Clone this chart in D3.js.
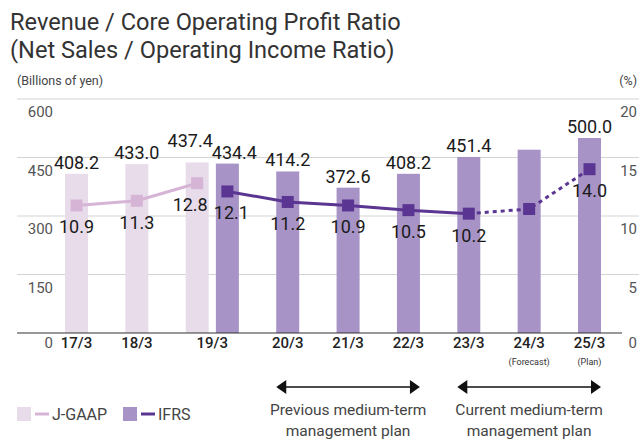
<!DOCTYPE html>
<html>
<head>
<meta charset="utf-8">
<script src="https://cdn.jsdelivr.net/npm/d3@7"></script>
<style>
  body { margin: 0; background: #fff; }
  text { font-family: Roboto, "Liberation Sans", sans-serif; }
</style>
</head>
<body>
<div id="chart"></div>
<script>
// chart data
const categories = ["17/3", "18/3", "19/3", "20/3", "21/3", "22/3", "23/3", "24/3", "25/3"];
const subLabels = ["", "", "", "", "", "", "", "(Forecast)", "(Plan)"];

const jgaapYears = ["17/3", "18/3", "19/3"];
const jgaapRevenue = [408.2, 433.0, 437.4];
const jgaapRatio = [10.9, 11.3, 12.8];

const ifrsYears = ["19/3", "20/3", "21/3", "22/3", "23/3", "24/3", "25/3"];
const ifrsRevenue = [434.4, 414.2, 372.6, 408.2, 451.4, 470.0, 500.0];
const ifrsRatio = [12.1, 11.2, 10.9, 10.5, 10.2, 10.6, 14.0];
const ifrsRevenueLabels = ["434.4", "414.2", "372.6", "408.2", "451.4", null, "500.0"];
const ifrsRatioLabels = ["12.1", "11.2", "10.9", "10.5", "10.2", null, "14.0"];

const leftTicks = [0, 150, 300, 450, 600];
const rightTicks = [0, 5, 10, 15, 20];

const plans = [
  { from: "20/3", to: "22/3", lines: ["Previous medium-term", "management plan"] },
  { from: "23/3", to: "25/3", lines: ["Current medium-term", "management plan"] }
];

const width = 640;
const height = 440;
const colors = { jBar: "#e8dcea", jLine: "#d6b4d6", iBar: "#a893c7", iLine: "#5a3592" };
const barW = 23;

const svg = d3.select("#chart")
  .append("svg")
  .attr("width", width)
  .attr("height", height);

// J-GAAP bars sit on whole slots, IFRS bars half a slot to the right
const x = d3.scaleLinear().domain([0, 8.5]).range([76.5, 589.5]);
const jPos = yr => x(categories.indexOf(yr));
const iPos = yr => x(categories.indexOf(yr) + 0.5);
const catPos = yr => {
  const xs = [];
  if (jgaapYears.includes(yr)) xs.push(jPos(yr));
  if (ifrsYears.includes(yr)) xs.push(iPos(yr));
  return d3.mean(xs);
};

const y = d3.scaleLinear().domain([0, 600]).range([333, 99]);
const y2 = d3.scaleLinear().domain([0, 20]).range([333, 99]);

// titles
svg.append("text").attr("x", 10).attr("y", 30)
  .attr("font-size", 23.6).attr("fill", "#333")
  .text("Revenue / Core Operating Profit Ratio");
svg.append("text").attr("x", 10).attr("y", 58)
  .attr("font-size", 23.6).attr("fill", "#333")
  .text("(Net Sales / Operating Income Ratio)");
svg.append("text").attr("x", 17).attr("y", 85)
  .attr("font-size", 12.5).attr("fill", "#444")
  .text("(Billions of yen)");
svg.append("text").attr("x", 637).attr("y", 85)
  .attr("font-size", 12.5).attr("fill", "#444").attr("text-anchor", "end")
  .text("(%)");

// grid
svg.append("g")
  .selectAll("line")
  .data(leftTicks.filter(d => d > 0))
  .join("line")
    .attr("x1", 17).attr("x2", 639)
    .attr("y1", d => y(d)).attr("y2", d => y(d))
    .attr("stroke", "#d4d4d4").attr("stroke-width", 1);

svg.append("g")
  .selectAll("text")
  .data(leftTicks)
  .join("text")
    .attr("x", 53)
    .attr("y", d => y(d) + (d === 0 ? 15 : 18))
    .attr("text-anchor", "end")
    .attr("font-size", 15).attr("fill", "#555")
    .text(d => d);

svg.append("g")
  .selectAll("text")
  .data(rightTicks)
  .join("text")
    .attr("x", 637)
    .attr("y", d => y2(d) + (d === 0 ? 15 : 18))
    .attr("text-anchor", "end")
    .attr("font-size", 15).attr("fill", "#555")
    .text(d => d);

// bars
svg.append("g")
  .attr("fill", colors.jBar)
  .selectAll("rect")
  .data(jgaapYears)
  .join("rect")
    .attr("x", d => jPos(d) - barW / 2)
    .attr("y", (d, i) => y(jgaapRevenue[i]))
    .attr("width", barW)
    .attr("height", (d, i) => y(0) - y(jgaapRevenue[i]));

svg.append("g")
  .attr("fill", colors.iBar)
  .selectAll("rect")
  .data(ifrsYears)
  .join("rect")
    .attr("x", d => iPos(d) - barW / 2)
    .attr("y", (d, i) => y(ifrsRevenue[i]))
    .attr("width", barW)
    .attr("height", (d, i) => y(0) - y(ifrsRevenue[i]));

// baseline
svg.append("line")
  .attr("x1", 17).attr("x2", 622)
  .attr("y1", y(0)).attr("y2", y(0))
  .attr("stroke", "#333").attr("stroke-width", 1.2);

// bar value labels (19/3 pair nudged apart)
const nudge = (yr, side) => yr === "19/3" ? side * 7 : 0;

svg.append("g")
  .selectAll("text")
  .data(jgaapYears)
  .join("text")
    .attr("x", d => jPos(d) + nudge(d, -1))
    .attr("y", (d, i) => y(jgaapRevenue[i]) - 5 - (d === "19/3" ? 10 : 0))
    .attr("text-anchor", "middle").attr("font-size", 18).attr("fill", "#1a1a1a")
    .text((d, i) => jgaapRevenue[i].toFixed(1));

svg.append("g")
  .selectAll("text")
  .data(ifrsYears.filter((d, i) => ifrsRevenueLabels[i]))
  .join("text")
    .attr("x", d => iPos(d) + nudge(d, 1))
    .attr("y", d => y(ifrsRevenue[ifrsYears.indexOf(d)]) - 5)
    .attr("text-anchor", "middle").attr("font-size", 18).attr("fill", "#1a1a1a")
    .text(d => ifrsRevenueLabels[ifrsYears.indexOf(d)]);

// ratio lines
const line = d3.line().x(d => d[0]).y(d => d[1]);
const jPts = jgaapYears.map((d, i) => [jPos(d), y2(jgaapRatio[i])]);
const iPts = ifrsYears.map((d, i) => [iPos(d), y2(ifrsRatio[i])]);
const splitAt = ifrsYears.indexOf("23/3");

svg.append("path").attr("d", line(jPts))
  .attr("fill", "none").attr("stroke", colors.jLine).attr("stroke-width", 3);
svg.append("path").attr("d", line(iPts.slice(0, splitAt + 1)))
  .attr("fill", "none").attr("stroke", colors.iLine).attr("stroke-width", 3);
svg.append("path").attr("d", line(iPts.slice(splitAt)))
  .attr("fill", "none").attr("stroke", colors.iLine).attr("stroke-width", 3)
  .attr("stroke-dasharray", "4,4");

const mk = 12;
svg.append("g").attr("fill", colors.jLine)
  .selectAll("rect").data(jPts).join("rect")
    .attr("x", d => d[0] - mk / 2).attr("y", d => d[1] - mk / 2)
    .attr("width", mk).attr("height", mk);
svg.append("g").attr("fill", colors.iLine)
  .selectAll("rect").data(iPts).join("rect")
    .attr("x", d => d[0] - mk / 2).attr("y", d => d[1] - mk / 2)
    .attr("width", mk).attr("height", mk);

// ratio labels
svg.append("g")
  .selectAll("text")
  .data(jgaapYears)
  .join("text")
    .attr("x", d => jPos(d) + nudge(d, -1))
    .attr("y", (d, i) => y2(jgaapRatio[i]) + 28)
    .attr("text-anchor", "middle").attr("font-size", 18).attr("fill", "#1a1a1a")
    .text((d, i) => jgaapRatio[i].toFixed(1));

svg.append("g")
  .selectAll("text")
  .data(ifrsYears.filter((d, i) => ifrsRatioLabels[i]))
  .join("text")
    .attr("x", d => iPos(d) + (d === "19/3" ? 4 : 0))
    .attr("y", d => y2(ifrsRatio[ifrsYears.indexOf(d)]) + 28)
    .attr("text-anchor", "middle").attr("font-size", 18).attr("fill", "#1a1a1a")
    .text(d => ifrsRatioLabels[ifrsYears.indexOf(d)]);

// category labels
svg.append("g")
  .selectAll("text")
  .data(categories)
  .join("text")
    .attr("x", d => catPos(d))
    .attr("y", 348)
    .attr("text-anchor", "middle").attr("font-size", 15).attr("font-weight", 500)
    .attr("fill", "#222")
    .text(d => d);

svg.append("g")
  .selectAll("text")
  .data(categories.filter((d, i) => subLabels[i]))
  .join("text")
    .attr("x", d => catPos(d))
    .attr("y", 365)
    .attr("text-anchor", "middle").attr("font-size", 9).attr("fill", "#333")
    .text(d => subLabels[categories.indexOf(d)]);

// plan arrows
const ay = 387;
plans.forEach(p => {
  const x1 = iPos(p.from) - barW / 2;
  const x2 = iPos(p.to) + barW / 2;
  const g = svg.append("g");
  g.append("line").attr("x1", x1 + 6).attr("x2", x2 - 6)
    .attr("y1", ay).attr("y2", ay)
    .attr("stroke", "#111").attr("stroke-width", 1.5);
  g.append("path")
    .attr("d", `M${x1},${ay} L${x1 + 10},${ay - 7} L${x1 + 10},${ay + 7} Z`)
    .attr("fill", "#111");
  g.append("path")
    .attr("d", `M${x2},${ay} L${x2 - 10},${ay - 7} L${x2 - 10},${ay + 7} Z`)
    .attr("fill", "#111");
  g.selectAll("text").data(p.lines).join("text")
    .attr("x", (x1 + x2) / 2)
    .attr("y", (d, i) => 415 + i * 21)
    .attr("text-anchor", "middle").attr("font-size", 15.5).attr("fill", "#444")
    .text(d => d);
});

// legend
const legend = [
  { label: "J-GAAP", bar: colors.jBar, line: colors.jLine, x: 17 },
  { label: "IFRS", bar: colors.iBar, line: colors.iLine, x: 123 }
];
const lg = svg.append("g").selectAll("g").data(legend).join("g")
  .attr("transform", d => `translate(${d.x},407)`);
lg.append("rect").attr("width", 14).attr("height", 14).attr("fill", d => d.bar);
lg.append("line").attr("x1", 18).attr("x2", 32).attr("y1", 7).attr("y2", 7)
  .attr("stroke", d => d.line).attr("stroke-width", 3);
lg.append("text").attr("x", 35).attr("y", 13)
  .attr("font-size", 16).attr("fill", "#444")
  .text(d => d.label);
</script>
</body>
</html>
